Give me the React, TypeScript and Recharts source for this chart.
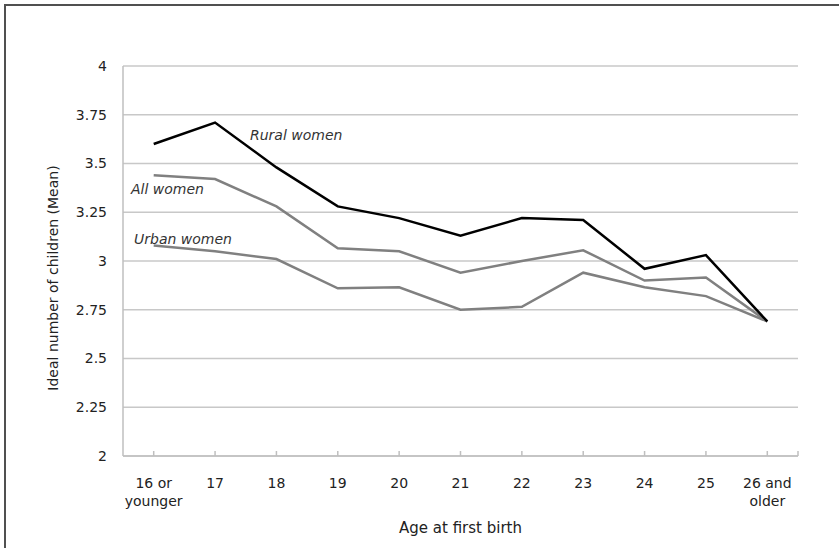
import React from 'react';
import { LineChart, Line, XAxis, YAxis, CartesianGrid } from 'recharts';

const categories = ['16 or younger', '17', '18', '19', '20', '21', '22', '23', '24', '25', '26 and older'];
const xTickLines = [['16 or', 'younger'], ['17'], ['18'], ['19'], ['20'], ['21'], ['22'], ['23'], ['24'], ['25'], ['26 and', 'older']];
const rural = [3.6, 3.71, 3.48, 3.28, 3.22, 3.13, 3.22, 3.21, 2.96, 3.03, 2.69];
const allWomen = [3.44, 3.42, 3.28, 3.065, 3.05, 2.94, 3.0, 3.055, 2.9, 2.915, 2.69];
const urban = [3.08, 3.05, 3.01, 2.86, 2.865, 2.75, 2.765, 2.94, 2.865, 2.82, 2.69];
const yTicks = [2, 2.25, 2.5, 2.75, 3, 3.25, 3.5, 3.75, 4];

const data = categories.map((c, i) => ({
  cat: c,
  rural: rural[i],
  all: allWomen[i],
  urban: urban[i],
}));

const FONT = '"DejaVu Sans", "Liberation Sans", Arial, sans-serif';
const HALF_GAP = 30.7;

const CatTick = (props: any) => {
  const { x, y, payload } = props;
  const idx = categories.indexOf(payload.value);
  const lines = xTickLines[idx] || [String(payload.value)];
  const isLast = idx === categories.length - 1;
  return (
    <g>
      <line x1={x} x2={x} y1={y - 5} y2={y} stroke="#bfbfbf" strokeWidth={1.5} />
      {isLast && <line x1={x + HALF_GAP} x2={x + HALF_GAP} y1={y - 5} y2={y} stroke="#bfbfbf" strokeWidth={1.5} />}
      <text x={x} y={y + 32} textAnchor="middle" fontSize={14} fontFamily={FONT} fill="#222">
        {lines.map((l: string, i: number) => (
          <tspan key={i} x={x} dy={i === 0 ? 0 : 18}>{l}</tspan>
        ))}
      </text>
    </g>
  );
};

const YTitle = (props: any) => {
  const vb = props.viewBox || { x: 0, y: 0, width: 0, height: 0 };
  const cx = vb.x + 53;
  const cy = vb.y + vb.height / 2 + 17;
  return (
    <text x={cx} y={cy} transform={`rotate(-90 ${cx} ${cy})`} textAnchor="middle" dominantBaseline="central" fontSize={14} fontFamily={FONT} fill="#222">
      Ideal number of children (Mean)
    </text>
  );
};

const XTitle = (props: any) => {
  const vb = props.viewBox || { x: 0, y: 0, width: 0, height: 0 };
  const cx = vb.x + vb.width / 2;
  const cy = vb.y + 72;
  return (
    <text x={cx} y={cy} textAnchor="middle" dominantBaseline="central" fontSize={15} fontFamily={FONT} fill="#222">
      Age at first birth
    </text>
  );
};

const noteStyle: React.CSSProperties = {
  position: 'absolute',
  fontFamily: FONT,
  fontStyle: 'italic',
  fontSize: 14,
  lineHeight: '16px',
  color: '#333',
  whiteSpace: 'nowrap',
};

export default function App() {
  return (
    <div style={{ position: 'absolute', left: 0, top: 0, width: 839, height: 548, background: '#fff', overflow: 'hidden' }}>
      <div style={{ position: 'absolute', left: 4, top: 4, width: 860, height: 600, borderTop: '2px solid #505050', borderLeft: '2px solid #505050' }} />
      <LineChart width={839} height={548} data={data} margin={{ top: 66, right: 41, bottom: 0, left: 0 }}>
        <CartesianGrid vertical={false} stroke="#c8c8c8" strokeWidth={1.5} />
        <XAxis
          dataKey="cat"
          height={92}
          padding={{ left: HALF_GAP, right: HALF_GAP }}
          axisLine={{ stroke: '#bfbfbf', strokeWidth: 1.5 }}
          tickLine={false}
          tickSize={0}
          tickMargin={0}
          interval={0}
          tick={<CatTick />}
          label={<XTitle />}
        />
        <YAxis
          width={123}
          domain={[2, 4]}
          ticks={yTicks}
          axisLine={{ stroke: '#bfbfbf', strokeWidth: 1.5 }}
          tickLine={false}
          tickSize={0}
          tickMargin={16}
          tick={{ fontSize: 14, fontFamily: FONT, fill: '#222' }}
          label={<YTitle />}
        />
        <Line dataKey="urban" stroke="#808080" strokeWidth={2.5} dot={false} isAnimationActive={false} />
        <Line dataKey="all" stroke="#808080" strokeWidth={2.5} dot={false} isAnimationActive={false} />
        <Line dataKey="rural" stroke="#000" strokeWidth={2.5} dot={false} isAnimationActive={false} />
      </LineChart>
      <div style={{ ...noteStyle, left: 250, top: 127 }}>Rural women</div>
      <div style={{ ...noteStyle, left: 131, top: 181 }}>All women</div>
      <div style={{ ...noteStyle, left: 134, top: 231 }}>Urban women</div>
    </div>
  );
}
